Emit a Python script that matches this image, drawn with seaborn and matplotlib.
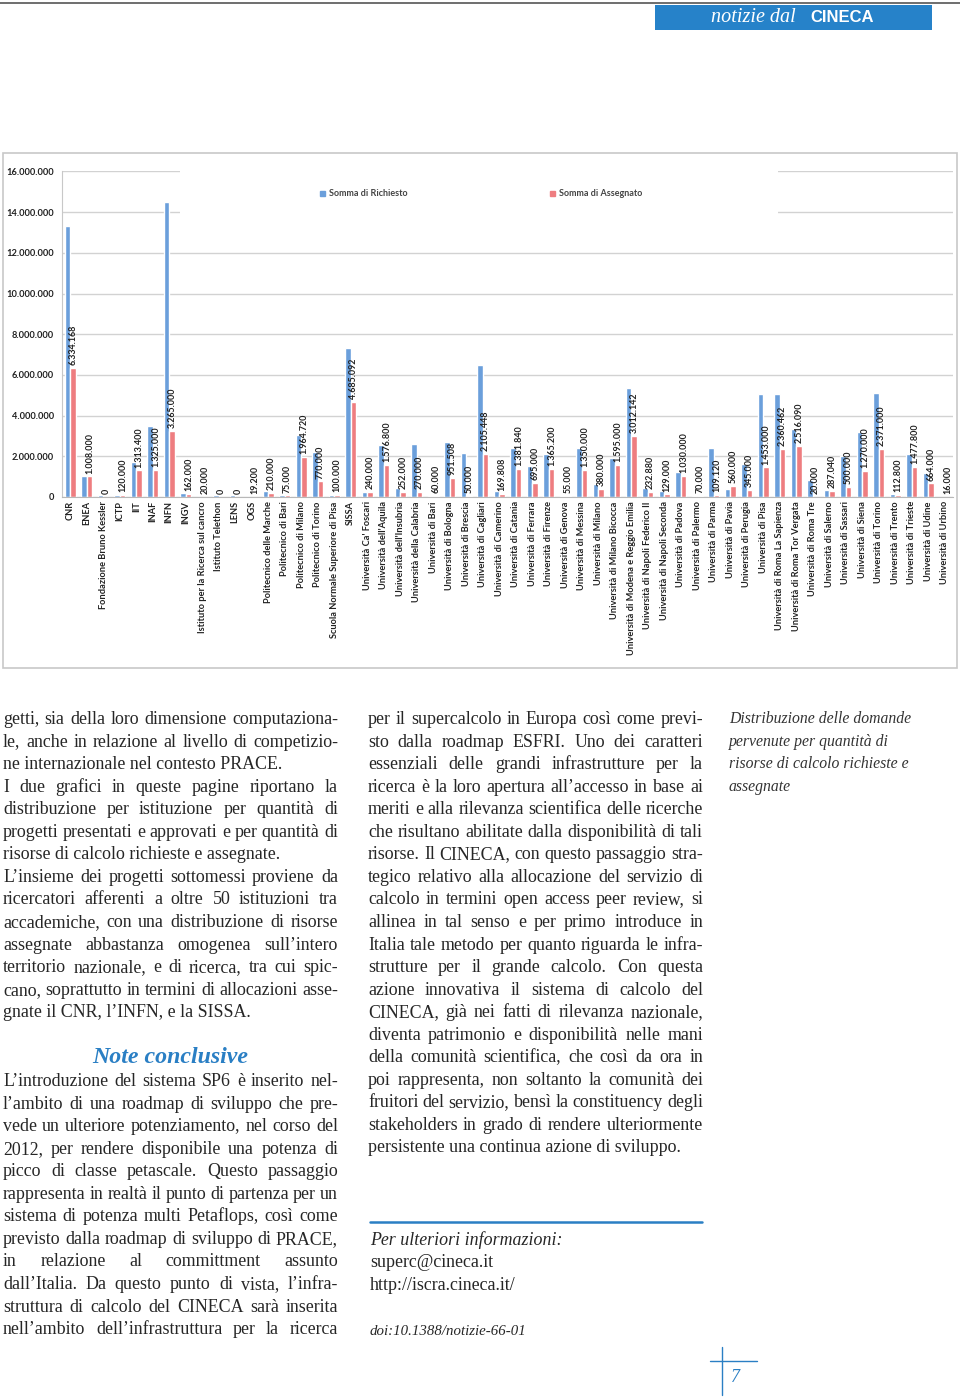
import matplotlib
matplotlib.use("Agg")
import numpy as np
import pandas as pd
import matplotlib.pyplot as plt
import seaborn as sns
from matplotlib.patches import Rectangle
from matplotlib.lines import Line2D
from matplotlib.ticker import FuncFormatter

# dati (ore di calcolo)
istituzioni = ["CNR", "ENEA", "Fondazione Bruno Kessler", "ICTP", "IIT", "INAF", "INFN", "INGV",
               "Istituto per la Ricerca sul cancro", "Istituto Telethon", "LENS", "OGS",
               "Politecnico delle Marche", "Politecnico di Bari", "Politecnico di Milano",
               "Politecnico di Torino", "Scuola Normale Superiore di Pisa", "SISSA",
               "Università Ca' Foscari", "Università dell'Aquila", "Università dell'Insubria",
               "Università della Calabria", "Università di Bari", "Università di Bologna",
               "Università di Brescia", "Università di Cagliari", "Università di Camerino",
               "Università di Catania", "Università di Ferrara", "Università di Firenze",
               "Università di Genova", "Università di Messina", "Università di Milano",
               "Università di Milano Bicocca", "Università di Modena e Reggio Emilia",
               "Università di Napoli Federico II", "Università di Napoli Seconda",
               "Università di Padova", "Università di Palermo", "Università di Parma",
               "Università di Pavia", "Università di Perugia", "Università di Pisa",
               "Università di Roma La Sapienza", "Università di Roma Tor Vergata",
               "Università di Roma Tre", "Università di Salerno", "Università di Sassari",
               "Università di Siena", "Università di Torino", "Università di Trento",
               "Università di Trieste", "Università di Udine", "Università di Urbino"]

richiesto = [13300000, 1020000, 120000, 120000, 1720000, 3490000, 14500000, 200000,
             20000, 110000, 120000, 19200, 300000, 100000, 3030000,
             2210000, 100000, 7310000, 250000, 2540000, 440000,
             2620000, 60000, 2700000, 2160000, 6480000, 280000,
             2430000, 1510000, 2100000, 55000, 2410000, 660000,
             1920000, 5380000, 440000, 280000, 1250000, 70000, 2430000,
             410000, 1640000, 5080000, 5050000, 3360000,
             820000, 330000, 2000000, 3200000, 5130000, 160000,
             2100000, 1180000, 16000]

assegnato = [6334168, 1008000, 0, 120000, 1313400, 1325000, 3265000, 162000,
             20000, 0, 0, 19200, 210000, 75000, 1964720,
             770000, 100000, 4685092, 240000, 1576800, 252000,
             270000, 60000, 951508, 50000, 2105448, 169808,
             1381840, 695000, 1365200, 55000, 1350000, 380000,
             1595000, 3012142, 232880, 129000, 1030000, 70000, 109120,
             560000, 345000, 1453000, 2360462, 2516090,
             20000, 287040, 500000, 1270000, 2371000, 112800,
             1477800, 664000, 16000]

serie = ["Somma di Richiesto", "Somma di Assegnato"]
yticks = [0, 2000000, 4000000, 6000000, 8000000, 10000000, 12000000, 14000000, 16000000]

df = pd.DataFrame({
    "istituzione": istituzioni * 2,
    "serie": [serie[0]] * len(istituzioni) + [serie[1]] * len(istituzioni),
    "valore": richiesto + assegnato,
})

def punti(v):
    return f"{int(v):,}".replace(",", ".")

W, H = 960, 1399
sns.set_style("white")
plt.rcParams["font.family"] = ["Lato", "DejaVu Sans"]

fig = plt.figure(figsize=(W / 100, H / 100), dpi=100)
r = fig.canvas.get_renderer()

BLU = "#2a7fc4"
TESTO = "#262626"
FS = 6.7  # testi del grafico

def fx(x):
    return x / W

def fy(y):
    return 1 - y / H

# ---- testata
fig.add_artist(Line2D([0, 1], [fy(3), fy(3)], color="#555555", lw=1.2))
fig.add_artist(Rectangle((fx(655), fy(30)), fx(932 - 655), (30 - 5) / H, color="#2682c9", lw=0))
fig.text(fx(711), fy(17), "notizie dal", color="white", fontsize=14.5, style="italic",
         family="Liberation Serif", va="center")
fig.text(fx(810), fy(17), "CINECA", color="white", fontsize=12, weight="bold",
         family="Liberation Sans", va="center")

# ---- grafico
fig.add_artist(Rectangle((fx(3), fy(668)), fx(954), (668 - 153) / H, fill=False,
                         ec="#c8c8c8", lw=1.2))

ax = fig.add_axes([fx(62), fy(497), fx(953 - 62), (497 - 171.5) / H])
sns.barplot(data=df, x="istituzione", y="valore", hue="serie", hue_order=serie,
            order=istituzioni, palette=["#6b9fdb", "#ee7d80"], width=0.68,
            saturation=1, ax=ax, legend=False, errorbar=None)
ax.set_xlim(-0.5, len(istituzioni) - 0.5)
ax.set_ylim(0, 16000000)
ax.set_yticks(yticks)
ax.yaxis.set_major_formatter(FuncFormatter(lambda v, p: punti(v)))
ax.set_axisbelow(True)
ax.grid(axis="y", color="#d2d2d2", lw=1)
ax.set_xlabel("")
ax.set_ylabel("")
for s in ["top", "right"]:
    ax.spines[s].set_visible(False)
ax.spines["left"].set_color("#c8c8c8")
ax.spines["bottom"].set_color("#b8b8b8")
ax.tick_params(axis="y", length=3, color="#c8c8c8", pad=3, labelsize=FS, labelcolor="#222222")
ax.tick_params(axis="x", length=0, pad=3, labelsize=FS, labelcolor="#222222")
for t in ax.get_yticklabels():
    t.set_fontweight("bold")
ax.set_xticks(range(len(istituzioni)))
ax.set_xticklabels(istituzioni, rotation=90, ha="center", va="top", fontweight="bold")
ax.set_xticks(np.arange(-0.5, len(istituzioni), 1), minor=True)
ax.tick_params(axis="x", which="minor", length=3, color="#b8b8b8")

ax.bar_label(ax.containers[1], labels=[punti(v) for v in assegnato], rotation=90,
             padding=2, fontsize=6.4, fontweight="bold", color="#222222")

# riquadro legenda (interrompe le griglie in alto)
ax.add_patch(Rectangle(((180 - 62) / 891, (497 - 226) / 325.5), (778 - 180) / 891,
                       0.2, transform=ax.transAxes, color="white", zorder=0.8,
                       clip_on=False, lw=0))
hl = [Rectangle((0, 0), 1, 1, color=c) for c in ["#6b9fdb", "#ee7d80"]]
leg = ax.legend(hl, serie, ncol=2, frameon=False, fontsize=6.5,
                loc="center left", bbox_to_anchor=(fx(312), fy(194)),
                bbox_transform=fig.transFigure, handlelength=0.55, handleheight=0.55,
                handletextpad=0.4, columnspacing=15.8)
for t in leg.get_texts():
    t.set_color("#444444")
    t.set_fontweight("bold")

# ---- testo a colonne
def riga(x0, x1, y, s, giust, **kw):
    parole = s.split(" ")
    if not giust or len(parole) == 1:
        fig.text(fx(x0), fy(y), s, **kw)
        return
    objs = [fig.text(0, 0, p, **kw) for p in parole]
    larg = [o.get_window_extent(r).width for o in objs]
    gap = (x1 - x0 - sum(larg)) / (len(parole) - 1)
    x = x0
    for o, w in zip(objs, larg):
        o.set_position((fx(x), fy(y)))
        x += w + gap

corpo = dict(family="Liberation Serif", fontsize=12.9, color=TESTO, va="baseline")

col1 = [
    ("getti, sia della loro dimensione computaziona-", 1),
    ("le, anche in relazione al livello di competizio-", 1),
    ("ne internazionale nel contesto PRACE.", 0),
    ("I due grafici in queste pagine riportano la", 1),
    ("distribuzione per istituzione per quantità di", 1),
    ("progetti presentati e approvati e per quantità di", 1),
    ("risorse di calcolo richieste e assegnate.", 0),
    ("L’insieme dei progetti sottomessi proviene da", 1),
    ("ricercatori afferenti a oltre 50 istituzioni tra", 1),
    ("accademiche, con una distribuzione di risorse", 1),
    ("assegnate abbastanza omogenea sull’intero", 1),
    ("territorio nazionale, e di ricerca, tra cui spic-", 1),
    ("cano, soprattutto in termini di allocazioni asse-", 1),
    ("gnate il CNR, l’INFN, e la SISSA.", 0),
]
col1b = [
    ("L’introduzione del sistema SP6 è inserito nel-", 1),
    ("l’ambito di una roadmap di sviluppo che pre-", 1),
    ("vede un ulteriore potenziamento, nel corso del", 1),
    ("2012, per rendere disponibile una potenza di", 1),
    ("picco di classe petascale. Questo passaggio", 1),
    ("rappresenta in realtà il punto di partenza per un", 1),
    ("sistema di potenza multi Petaflops, così come", 1),
    ("previsto dalla roadmap di sviluppo di PRACE,", 1),
    ("in relazione al committment assunto", 1),
    ("dall’Italia. Da questo punto di vista, l’infra-", 1),
    ("struttura di calcolo del CINECA sarà inserita", 1),
    ("nell’ambito dell’infrastruttura per la ricerca", 1),
]
col2 = [
    ("per il supercalcolo in Europa così come previ-", 1),
    ("sto dalla roadmap ESFRI. Uno dei caratteri", 1),
    ("essenziali delle grandi infrastrutture per la", 1),
    ("ricerca è la loro apertura all’accesso in base ai", 1),
    ("meriti e alla rilevanza scientifica delle ricerche", 1),
    ("che risultano abilitate dalla disponibilità di tali", 1),
    ("risorse. Il CINECA, con questo passaggio stra-", 1),
    ("tegico relativo alla allocazione del servizio di", 1),
    ("calcolo in termini open access peer review, si", 1),
    ("allinea in tal senso e per primo introduce in", 1),
    ("Italia tale metodo per quanto riguarda le infra-", 1),
    ("strutture per il grande calcolo. Con questa", 1),
    ("azione innovativa il sistema di calcolo del", 1),
    ("CINECA, già nei fatti di rilevanza nazionale,", 1),
    ("diventa patrimonio e disponibilità nelle mani", 1),
    ("della comunità scientifica, che così da ora in", 1),
    ("poi rappresenta, non soltanto la comunità dei", 1),
    ("fruitori del servizio, bensì la constituency degli", 1),
    ("stakeholders in grado di rendere ulteriormente", 1),
    ("persistente una continua azione di sviluppo.", 0),
]

PASSO = 22.55
for i, (s, g) in enumerate(col1):
    riga(3, 338, 724 + i * PASSO, s, g, **corpo)
fig.text(fx(92), fy(1063), "Note conclusive", family="Liberation Serif", fontsize=17.2,
         style="italic", weight="bold", color=BLU, va="baseline")
for i, (s, g) in enumerate(col1b):
    riga(3, 338, 1086 + i * PASSO, s, g, **corpo)
for i, (s, g) in enumerate(col2):
    riga(368, 703, 724 + i * PASSO, s, g, **corpo)

fig.add_artist(Line2D([fx(370), fx(702)], [fy(1222), fy(1222)], color=BLU, lw=1.8))
fig.text(fx(370), fy(1245), "Per ulteriori informazioni:", style="italic", **corpo)
fig.text(fx(370), fy(1267), "superc@cineca.it", **corpo)
fig.text(fx(370), fy(1290), "http://iscra.cineca.it/", **corpo)
fig.text(fx(370), fy(1335), "doi:10.1388/notizie-66-01", family="Liberation Serif",
         fontsize=10.7, style="italic", color=TESTO, va="baseline")

didascalia = ["Distribuzione delle domande", "pervenute per quantità di",
              "risorse di calcolo richieste e", "assegnate"]
for i, s in enumerate(didascalia):
    fig.text(fx(729), fy(723 + i * PASSO), s, family="Liberation Serif", fontsize=11.3,
             style="italic", color="#333333", va="baseline")

# numero di pagina
fig.add_artist(Line2D([fx(722), fx(722)], [fy(1347), fy(1395)], color=BLU, lw=1))
fig.add_artist(Line2D([fx(710), fx(757)], [fy(1361), fy(1361)], color=BLU, lw=1))
fig.text(fx(731), fy(1382), "7", family="Liberation Serif", fontsize=13, style="italic",
         color=BLU, va="baseline")

fig.savefig("out.png", dpi=100)
